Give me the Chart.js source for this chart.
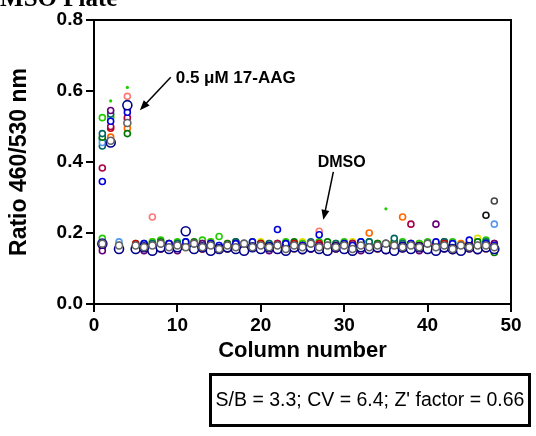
<!DOCTYPE html>
<html>
<head>
<meta charset="utf-8">
<script src="https://cdn.jsdelivr.net/npm/chart.js@4.4.0/dist/chart.umd.min.js"></script>
<style>
  html, body { margin: 0; padding: 0; background: #fff; }
  #wrap { position: relative; width: 536px; height: 436px; overflow: hidden; }
  #title { position: absolute; left: -18px; top: -16px; font: bold 25px "Liberation Serif", "Times New Roman", serif; white-space: nowrap; }
  #stats { position: absolute; left: 209px; top: 373px; width: 316px; height: 48px; border: 3px solid #000;
           font: 19.5px "Liberation Sans", Arial, sans-serif; line-height: 46px; text-align: center; white-space: nowrap; }
</style>
</head>
<body>
<div id="wrap">
  <canvas id="myChart" width="536" height="436"></canvas>
  <div id="title">DMSO Plate</div>
  <div id="stats">S/B = 3.3; CV = 6.4; Z' factor = 0.66</div>
</div>
<script>
const columns = [1,2,3,4,5,6,7,8,9,10,11,12,13,14,15,16,17,18,19,20,21,22,23,24,
                 25,26,27,28,29,30,31,32,33,34,35,36,37,38,39,40,41,42,43,44,45,46,47,48];
const xTicks = [0, 10, 20, 30, 40, 50];
const yTicks = [0.0, 0.2, 0.4, 0.6, 0.8];

// one array per plate row, values read per column (null = no point)
const green     = [.525,.525,.165,null,.17,.16,.175,.18,.17,.175,.165,.17,.18,.175,.19,.165,.17,.16,.175,.17,.165,.17,.175,.165,.17,.16,.175,.17,.165,.175,.17,.165,.175,.17,.165,.17,.175,.165,.17,.175,.165,.17,.175,.165,.17,.175,.18,.16];
const darkgreen = [.47,null,.16,.48,.165,.17,.16,.175,.165,.17,.16,.175,.17,.165,.16,.17,.175,.165,.16,.17,.165,.16,.17,.175,.165,.17,.16,.175,.165,.17,.16,.175,.165,.17,.16,.175,.165,.17,.16,.165,.17,.175,.16,.165,.17,.175,.16,.145];
const teal      = [.48,.535,.165,.565,.16,.165,.17,.16,.165,.17,.175,.16,.165,.17,.16,.165,.175,.17,.16,.165,.17,.165,.16,.17,.165,.175,.16,.165,.17,.16,.165,.17,.175,.16,.165,.185,.17,.16,.165,.17,.16,.175,.165,.16,.17,.165,.175,.16];
const blue      = [.345,.515,.16,.54,.165,.17,.16,.165,.17,.16,.175,.165,.16,.17,.165,.16,.17,.165,.175,.16,.165,.21,.17,.16,.165,.17,.195,.165,.16,.17,.165,.175,.16,.165,.17,.16,.165,.17,.16,.165,.175,.16,.17,.165,.18,.16,.17,.165];
const navy      = [.17,.455,.155,.56,.155,.16,.15,.16,.155,.16,.205,.155,.16,.15,.155,.16,.155,.15,.16,.155,.16,.155,.15,.16,.155,.16,.155,.15,.16,.155,.15,.16,.155,.16,.155,.15,.16,.155,.16,.155,.15,.16,.155,.15,.16,.155,.16,.155];
const purple    = [.15,.545,.155,.55,.16,.15,.165,.155,.16,.15,.165,.155,.17,.15,.16,.155,.165,.15,.16,.155,.15,.165,.155,.16,.15,.155,.165,.15,.16,.155,.165,.15,.155,.16,.15,.165,.155,.16,.15,.155,.225,.16,.15,.155,.16,.15,.165,.17];
const crimson   = [.383,.50,.16,.525,.165,.155,.16,.17,.165,.155,.16,.165,.155,.17,.16,.165,.155,.16,.165,.155,.16,.17,.155,.165,.16,.155,.165,.16,.155,.165,.17,.155,.16,.165,.155,.16,.165,.225,.155,.16,.165,.155,.16,.165,.155,.16,.165,.155];
const orange    = [null,.47,null,.495,.16,.165,.155,.17,.16,.165,.17,.16,.155,.165,.16,.17,.165,.155,.16,.165,.17,.16,.165,.155,.16,.17,.165,.16,.155,.17,.165,.16,.20,.165,.16,.17,.245,.165,.16,.155,.17,.165,.16,.17,.165,.16,.155,.16];
const yellow    = [null,.53,null,.505,.155,.16,.175,.165,.155,.17,.16,.155,.165,.175,.16,.155,.17,.165,.16,.175,.155,.165,.17,.16,.175,.165,.155,.16,.17,.165,.175,.16,.165,.17,.16,.175,.165,.16,.17,.165,.155,.16,.165,.17,.16,.185,.165,.16];
const red       = [.16,.495,.165,null,.17,.16,.165,.155,.17,.165,.16,.17,.165,.16,.155,.165,.17,.16,.165,.17,.155,.165,.16,.17,.165,.16,.17,.155,.165,.16,.17,.165,.16,.155,.17,.165,.16,.17,.165,.16,.155,.17,.165,.16,.17,.165,.16,.17];
const pink      = [null,null,null,.585,.165,null,.245,.17,null,.165,.16,null,.17,.165,null,.16,.17,null,.165,.16,null,.17,.165,null,.16,.17,.205,null,.165,.16,null,.17,.165,null,.16,.17,null,.165,.16,null,.17,.175,null,.165,.16,null,.17,.165];
const lightblue = [.455,null,.175,.52,.16,.165,.17,.16,.165,.155,.17,.165,.16,.17,.165,.155,.16,.17,.165,.16,.155,.17,.165,.16,.17,.165,.16,.155,.17,.165,.16,.17,.165,.16,.155,.17,.165,.16,.17,.165,.16,.155,.17,.165,.16,.17,.165,.225];
const gray      = [.17,.46,.165,.51,.165,.16,.165,.17,.16,.165,.16,.17,.16,.165,.155,.165,.16,.17,.16,.165,.16,.165,.155,.165,.16,.17,.16,.165,.16,.165,.155,.165,.16,.165,.17,.165,.16,.165,.16,.17,.16,.165,.155,.165,.16,.165,.165,.16];

const extraCols   = [1, 1, 1, 47, 48];
const extraVals   = [0.465, 0.445, 0.185, 0.25, 0.29];
const extraColors = ["#006666", "#006666", "#22cc00", "#111111", "#444444"];
const dotCols = [2, 4, 35];
const dotVals = [0.572, 0.61, 0.268];

const rows = [
  { vals: gray,      color: "#636363", r: 3.5, order: 0 },
  { vals: navy,      color: "#000088", r: 4.5, order: 1 },
  { vals: blue,      color: "#0000dd", r: 3,   order: 2 },
  { vals: purple,    color: "#660077", r: 3,   order: 3 },
  { vals: crimson,   color: "#aa0044", r: 3,   order: 4 },
  { vals: red,       color: "#cc0000", r: 3,   order: 5 },
  { vals: teal,      color: "#006666", r: 3,   order: 6 },
  { vals: darkgreen, color: "#007700", r: 3,   order: 7 },
  { vals: green,     color: "#22cc00", r: 3,   order: 8 },
  { vals: orange,    color: "#ff6600", r: 3,   order: 9 },
  { vals: yellow,    color: "#e0e000", r: 3,   order: 10 },
  { vals: pink,      color: "#ff7777", r: 3,   order: 11 },
  { vals: lightblue, color: "#5599ee", r: 3,   order: 12 },
];

const datasets = rows.map((row) => ({
  data: columns.map((c, i) => ({ x: c, y: row.vals[i] })).filter((p) => p.y !== null),
  borderColor: row.color,
  backgroundColor: "#ffffff",
  borderWidth: 1.6,
  pointRadius: row.r,
  order: row.order,
}));
datasets.push({
  data: extraCols.map((c, i) => ({ x: c, y: extraVals[i] })),
  borderColor: extraColors,
  backgroundColor: "#ffffff",
  borderWidth: 1.6,
  pointRadius: 3,
  order: 13,
});
datasets.push({
  data: dotCols.map((c, i) => ({ x: c, y: dotVals[i] })),
  borderColor: "#22cc00",
  backgroundColor: "#22cc00",
  borderWidth: 0,
  pointRadius: 1.6,
  order: 0,
});

function arrow(ctx, x1, y1, x2, y2) {
  const a = Math.atan2(y2 - y1, x2 - x1);
  const len = 10, w = 4;
  ctx.beginPath();
  ctx.moveTo(x1, y1);
  ctx.lineTo(x2 - Math.cos(a) * len * 0.8, y2 - Math.sin(a) * len * 0.8);
  ctx.stroke();
  ctx.beginPath();
  ctx.moveTo(x2, y2);
  ctx.lineTo(x2 - Math.cos(a) * len - Math.sin(a) * w, y2 - Math.sin(a) * len + Math.cos(a) * w);
  ctx.lineTo(x2 - Math.cos(a) * len + Math.sin(a) * w, y2 - Math.sin(a) * len - Math.cos(a) * w);
  ctx.closePath();
  ctx.fill();
}

const frame = {
  id: "frame",
  afterDraw: (chart) => {
    const { ctx, chartArea: a } = chart;
    ctx.save();
    ctx.strokeStyle = "#000";
    ctx.lineWidth = 2;
    ctx.beginPath();
    ctx.moveTo(a.left, a.top);
    ctx.lineTo(a.right, a.top);
    ctx.lineTo(a.right, a.bottom);
    ctx.stroke();
    ctx.restore();
  },
};

const notes = {
  id: "notes",
  afterDraw: (chart) => {
    const { ctx } = chart;
    const x = chart.scales.x, y = chart.scales.y;
    ctx.save();
    ctx.fillStyle = "#000";
    ctx.strokeStyle = "#000";
    ctx.lineWidth = 1.5;
    ctx.textBaseline = "middle";
    ctx.font = 'bold 17px "Liberation Sans", Arial, sans-serif';
    ctx.fillText("0.5 \u03bcM 17-AAG", x.getPixelForValue(9.8), y.getPixelForValue(0.636));
    ctx.textAlign = "center";
    ctx.font = 'bold 16px "Liberation Sans", Arial, sans-serif';
    ctx.fillText("DMSO", x.getPixelForValue(29.7), y.getPixelForValue(0.397));
    arrow(ctx, x.getPixelForValue(9.2), y.getPixelForValue(0.639), x.getPixelForValue(5.5), y.getPixelForValue(0.546));
    arrow(ctx, x.getPixelForValue(28.7), y.getPixelForValue(0.372), x.getPixelForValue(27.5), y.getPixelForValue(0.237));
    ctx.restore();
  },
};

Chart.defaults.font.family = '"Liberation Sans", Arial, sans-serif';
Chart.defaults.color = "#000";

new Chart(document.getElementById("myChart"), {
  type: "scatter",
  data: { datasets: datasets },
  options: {
    responsive: false,
    animation: false,
    layout: { padding: { left: 0, right: 25, top: 20, bottom: 72 } },
    plugins: { legend: { display: false }, tooltip: { enabled: false } },
    scales: {
      x: {
        type: "linear",
        min: 0,
        max: 50,
        afterBuildTicks: (s) => { s.ticks = xTicks.map((v) => ({ value: v })); },
        afterFit: (s) => { s.height = 60; },
        ticks: { font: { size: 19, weight: "bold" }, color: "#000", padding: 2 },
        grid: { drawOnChartArea: false, color: "#000", lineWidth: 2, tickLength: 8 },
        border: { color: "#000", width: 2 },
        title: { display: true, text: "Column number", font: { size: 22, weight: "bold" }, padding: { top: 0, bottom: 0 } },
      },
      y: {
        min: 0,
        max: 0.8,
        afterBuildTicks: (s) => { s.ticks = yTicks.map((v) => ({ value: v })); },
        afterFit: (s) => { s.width = 94; },
        ticks: { font: { size: 19, weight: "bold" }, color: "#000", padding: 3, callback: (v) => v.toFixed(1) },
        grid: { drawOnChartArea: false, color: "#000", lineWidth: 2, tickLength: 8 },
        border: { color: "#000", width: 2 },
        title: { display: true, text: "Ratio 460/530 nm", font: { size: 23, weight: "bold" }, padding: { top: 6, bottom: 0 } },
      },
    },
  },
  plugins: [frame, notes],
});
</script>
</body>
</html>
